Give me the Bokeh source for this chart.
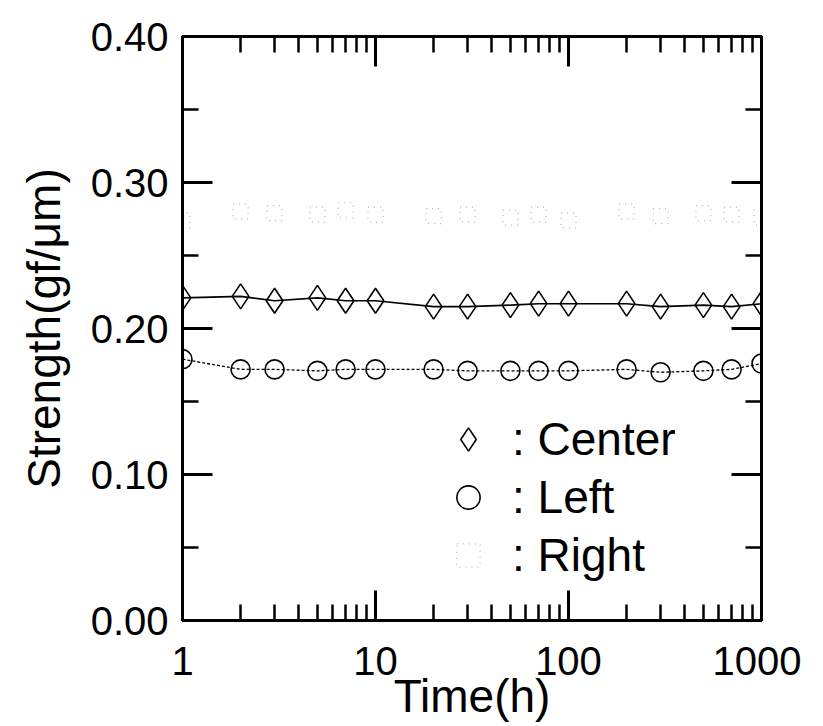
from bokeh.plotting import figure
from bokeh.models import (Range1d, LogAxis, LinearAxis, FixedTicker, PrintfTickFormatter,
                          Legend, LegendItem, ColumnDataSource)
from bokeh.embed import file_html
from bokeh.resources import INLINE

# ---- data ----
times = [1, 2, 3, 5, 7, 10, 20, 30, 50, 70, 100, 200, 300, 500, 700, 1000]
center = [0.221, 0.222, 0.219, 0.221, 0.219, 0.219, 0.215, 0.215, 0.216, 0.217,
          0.217, 0.217, 0.215, 0.216, 0.215, 0.217]
left = [0.179, 0.172, 0.172, 0.171, 0.172, 0.172, 0.172, 0.171, 0.171, 0.171,
        0.171, 0.172, 0.170, 0.171, 0.172, 0.176]
right = [0.274, 0.280, 0.279, 0.278, 0.281, 0.278, 0.277, 0.278, 0.276, 0.278,
         0.274, 0.280, 0.277, 0.279, 0.278, 0.276]
x_ticks = [1, 10, 100, 1000]
x_minor = [m * d for d in (1, 10, 100) for m in range(2, 10)]
y_ticks = [0.0, 0.1, 0.2, 0.3, 0.4]
y_minor = [0.05, 0.15, 0.25, 0.35]
series_labels = [": Center", ": Left", ": Right"]
x_title = "Time(h)"
y_title = "Strength(gf/\u03bcm)"

FONT = "Liberation Sans"

p = figure(x_axis_type="log", x_range=Range1d(1, 1000), y_range=Range1d(0, 0.4),
           frame_width=579, frame_height=584,
           min_border_left=182, min_border_top=36, min_border_right=40, min_border_bottom=104,
           output_backend="svg", toolbar_location=None,
           background_fill_color="white", border_fill_color="white")
p.grid.visible = False
p.outline_line_color = "black"
p.outline_line_width = 3

src = ColumnDataSource(dict(t=times, c=center, l=left, r=right))

p.line("t", "c", source=src, line_color="black", line_width=1.6)
rc = p.scatter("t", "c", source=src, marker="diamond", size=25, fill_color=None,
               line_color="black", line_width=1.6)
p.line("t", "l", source=src, line_color="black", line_width=1.3, line_dash="3 2")
rl = p.scatter("t", "l", source=src, marker="circle", size=19, fill_color=None,
               line_color="black", line_width=1.6)
rr = p.scatter("t", "r", source=src, marker="square", size=15, fill_color=None,
               line_color="#555555", line_width=1.2, line_dash="1 5", line_alpha=0.45)


def style_axis(ax, labels=True):
    ax.axis_line_width = 3
    ax.axis_line_color = "black"
    ax.major_tick_in = 30
    ax.major_tick_out = 0
    ax.minor_tick_in = 16
    ax.minor_tick_out = 0
    ax.major_tick_line_width = 3
    ax.minor_tick_line_width = 2.5
    ax.major_tick_line_color = "black"
    ax.minor_tick_line_color = "black"
    ax.major_label_text_font = FONT
    ax.major_label_text_font_size = "40px"
    ax.major_label_text_color = "black"
    ax.axis_label_text_font = FONT
    ax.axis_label_text_font_style = "normal"
    ax.axis_label_text_color = "black"
    if not labels:
        ax.major_label_text_font_size = "0px"
        ax.major_label_text_color = None


xa = p.xaxis[0]
xa.ticker = FixedTicker(ticks=x_ticks, minor_ticks=x_minor)
xa.formatter = PrintfTickFormatter(format="%d")
style_axis(xa)
xa.major_label_standoff = 26
xa.axis_label = x_title
xa.axis_label_text_font_size = "46px"
xa.axis_label_standoff = -8

ya = p.yaxis[0]
ya.ticker = FixedTicker(ticks=y_ticks, minor_ticks=y_minor)
ya.formatter = PrintfTickFormatter(format="%.2f")
style_axis(ya)
ya.major_label_standoff = 14
ya.axis_label = y_title
ya.axis_label_text_font_size = "46px"
ya.axis_label_standoff = 18

top = LogAxis(ticker=FixedTicker(ticks=x_ticks, minor_ticks=x_minor))
style_axis(top, labels=False)
p.add_layout(top, "above")
rgt = LinearAxis(ticker=FixedTicker(ticks=y_ticks, minor_ticks=y_minor))
style_axis(rgt, labels=False)
p.add_layout(rgt, "right")

legend = Legend(items=[LegendItem(label=series_labels[0], renderers=[rc]),
                       LegendItem(label=series_labels[1], renderers=[rl]),
                       LegendItem(label=series_labels[2], renderers=[rr])],
                location=(257, 36), border_line_color=None, background_fill_alpha=0,
                label_text_font=FONT, label_text_font_size="46px", label_text_color="black",
                glyph_width=58, glyph_height=58, label_standoff=15, spacing=0,
                label_height=54, padding=0, margin=0)
p.add_layout(legend, "center")

open("out.html", "w").write(file_html(p, INLINE))
